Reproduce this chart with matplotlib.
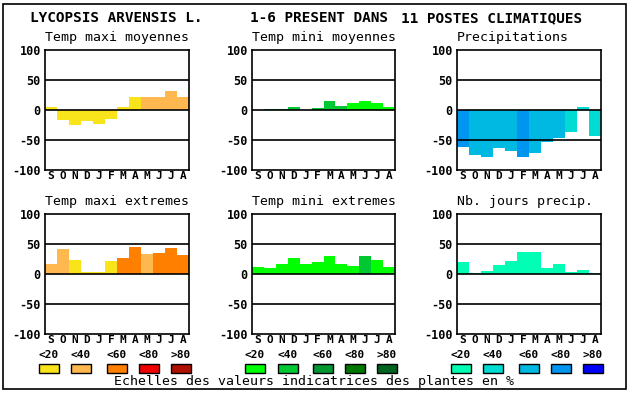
import numpy as np
import matplotlib
matplotlib.use("Agg")
import matplotlib.pyplot as plt
from matplotlib.patches import Rectangle

W, H = 630, 394

months = ["S", "O", "N", "D", "J", "F", "M", "A", "M", "J", "J", "A"]
legend_labels = ["<20", "<40", "<60", "<80", ">80"]

# palettes (classes <20 .. >80)
warm = ["#F9E31A", "#FFB84F", "#FF8000", "#EE0000", "#B01000"]
green = ["#00FF00", "#00C832", "#009632", "#007800", "#006420"]
blue = ["#00FFB4", "#00DCD2", "#00B9E2", "#0096F0", "#0000FF"]

tmax_moy = [5, -17, -25, -18, -23, -15, 5, 22, 22, 22, 32, 22]
tmax_moy_cls = [0, 0, 0, 0, 0, 0, 0, 0, 1, 1, 1, 1]

tmin_moy = [0, 2, 2, 5, 0, 3, 15, 7, 12, 15, 12, 5]
tmin_moy_cls = [1, 1, 1, 1, 1, 1, 1, 1, 0, 0, 0, 0]

precip = [-61, -75, -78, -64, -68, -78, -72, -53, -46, -36, 5, -44]
precip_cls = [3, 2, 2, 2, 2, 3, 2, 2, 2, 1, 1, 1]

tmax_ext = [17, 42, 23, 3, 3, 22, 27, 45, 33, 35, 43, 32]
tmax_ext_cls = [1, 1, 0, 0, 0, 0, 2, 2, 1, 2, 2, 2]

tmin_ext = [12, 10, 17, 27, 17, 20, 30, 17, 13, 30, 23, 12]
tmin_ext_cls = [0, 0, 0, 0, 0, 0, 0, 0, 0, 1, 0, 0]

jours = [20, 2, 5, 15, 22, 37, 37, 10, 17, 3, 7, 2]
jours_cls = [0] * 12

panels = [
    ("Temp maxi moyennes", tmax_moy, tmax_moy_cls, warm, (45, 50, 189, 170)),
    ("Temp mini moyennes", tmin_moy, tmin_moy_cls, green, (252, 50, 395, 170)),
    ("Precipitations", precip, precip_cls, blue, (457, 50, 601, 170)),
    ("Temp maxi extremes", tmax_ext, tmax_ext_cls, warm, (45, 214, 189, 334)),
    ("Temp mini extremes", tmin_ext, tmin_ext_cls, green, (252, 214, 395, 334)),
    ("Nb. jours precip.", jours, jours_cls, blue, (457, 214, 601, 334)),
]

MONO = "DejaVu Sans Mono"

fig = plt.figure(figsize=(W / 100, H / 100), dpi=100)


def fx(x):
    return x / W


def fy(y):
    return 1 - y / H


for title, vals, cls, pal, (x0, y0, x1, y1) in panels:
    ax = fig.add_axes([fx(x0), fy(y1), (x1 - x0) / W, (y1 - y0) / H])
    cols = [pal[c] for c in cls]
    ax.bar(np.arange(12), vals, width=1.0, color=cols, linewidth=0)
    for v in (50, 0, -50):
        ax.axhline(v, color="black", lw=1.2, zorder=3)
    ax.set_xlim(-0.5, 11.5)
    ax.set_ylim(-100, 100)
    ax.set_yticks([100, 50, 0, -50, -100])
    ax.set_yticklabels(["100", "50", "0", "-50", "-100"],
                       fontfamily=MONO, fontweight="bold", fontsize=8.5)
    ax.set_xticks(np.arange(12))
    ax.set_xticklabels(months, fontfamily=MONO, fontweight="bold", fontsize=8)
    ax.tick_params(axis="y", length=0, pad=3)
    ax.tick_params(axis="x", length=0, pad=1)
    for s in ax.spines.values():
        s.set_linewidth(1.2)
    fig.text(fx(x0), fy((y0 - 12)), title, fontfamily=MONO, fontsize=9.5,
             ha="left", va="center")

# legend swatches
sw_x = [
    [39, 71, 107, 139, 171],
    [245, 278, 313, 345, 377],
    [451, 483, 519, 551, 583],
]
for xs, pal in zip(sw_x, [warm, green, blue]):
    for x, lab, c in zip(xs, legend_labels, pal):
        fig.text(fx(x + 10), fy(355), lab, fontfamily=MONO, fontweight="bold",
                 fontsize=8, ha="center", va="center")
        fig.add_artist(Rectangle((fx(x), fy(373)), 20 / W, 9 / H,
                                 transform=fig.transFigure, facecolor=c,
                                 edgecolor="black", lw=1))

fig.text(fx(314), fy(382), "Echelles des valeurs indicatrices des plantes en %",
         fontfamily=MONO, fontsize=9.5, ha="center", va="center")

# titre principal
fig.text(fx(30), fy(18), "LYCOPSIS ARVENSIS L.", fontfamily=MONO,
         fontweight="bold", fontsize=10.4, ha="left", va="center")
fig.text(fx(250), fy(18), "1-6 PRESENT DANS", fontfamily=MONO,
         fontweight="bold", fontsize=10.4, ha="left", va="center")
fig.text(fx(401), fy(18), "11 POSTES CLIMATIQUES", fontfamily=MONO,
         fontweight="bold", fontsize=10.4, ha="left", va="center")

# cadre
fig.add_artist(Rectangle((fx(3), fy(389)), 623 / W, 385 / H,
                         transform=fig.transFigure, fill=False,
                         edgecolor="black", lw=1.2))

fig.savefig("out.png", dpi=100)
